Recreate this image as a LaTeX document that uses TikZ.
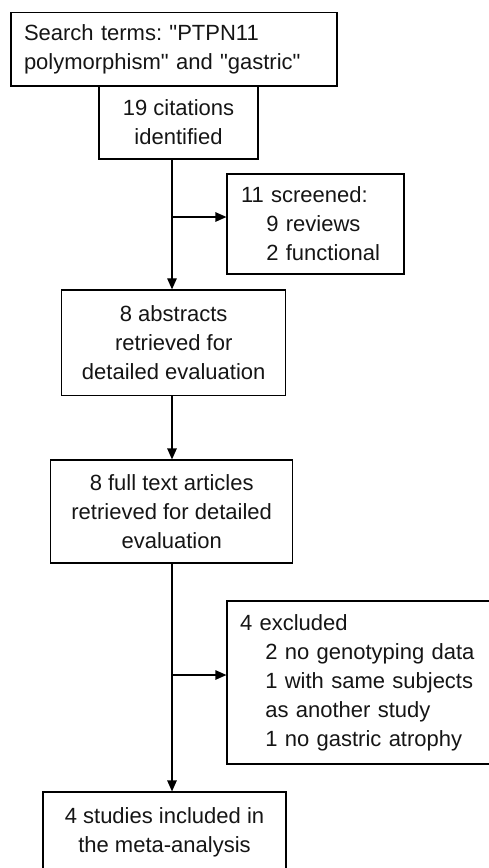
\documentclass[tikz,border=0pt]{standalone}
\usepackage{fontspec}
\newfontfamily\flowfont{Liberation Sans}
\usetikzlibrary{arrows.meta,calc,positioning}
\definecolor{Ink}{HTML}{151515}
\tikzset{
  flowarrow/.style={-{Triangle[length=11pt,width=9.5pt]},line width=1.2pt,draw=black},
  stagebox/.style={draw=black,line width=1.2pt,align=center,inner sep=0pt,text=Ink,
    font=\flowfont\fontsize{22}{29}\selectfont\frenchspacing},
  notebox/.style={stagebox,align=left,inner xsep=13pt},
}
\newcommand{\ind}{\hspace*{1.15em}}

\begin{document}
\begin{tikzpicture}[x=1pt,y=-1pt]
    \path[use as bounding box] (0,0) rectangle (489,868);
    \clip (0,0) rectangle (489,868);
    \coordinate (trunk) at (172,0);

    \node[notebox,minimum width=326,minimum height=73.3,text width=300] (search) at (174,49.3)
      {Search terms: "PTPN11\\polymorphism" and "gastric"};
    \node[stagebox,minimum width=159,minimum height=73] (cites) at (178.5,122.5)
      {19 citations\\identified};
    \node[notebox,minimum width=177,minimum height=100,text width=149,inner xsep=14pt] (screened) at (315.5,224)
      {11 screened:\\\ind 9 reviews\\\ind 2 functional};
    \node[stagebox,minimum width=224,minimum height=105.7] (abstracts) at (173.7,342.8)
      {8 abstracts\\retrieved for\\detailed evaluation};
    \node[stagebox,minimum width=242,minimum height=103] (fulltext) at (171.7,511.5)
      {8 full text articles\\retrieved for detailed\\evaluation};
    \node[notebox,minimum width=293,minimum height=163,text width=267] (excluded) at (373.5,682.5)
      {4 excluded\\\ind 2 no genotyping data\\\ind 1 with same subjects\\\ind as another study\\\ind 1 no gastric atrophy};
    \node[stagebox,minimum width=243,minimum height=80] (included) at (164.5,832)
      {4 studies included in\\the meta-analysis};

    \coordinate (split1) at (172,217);
    \coordinate (split2) at (172,675);

    \draw[flowarrow] (cites.south -| trunk) -- (abstracts.north -| trunk);
    \draw[flowarrow] (split1) -- (screened.west |- split1);
    \draw[flowarrow] (abstracts.south -| trunk) -- (fulltext.north -| trunk);
    \draw[flowarrow] (fulltext.south -| trunk) -- (included.north -| trunk);
    \draw[flowarrow] (split2) -- (excluded.west |- split2);
  \end{tikzpicture}
\end{document}
